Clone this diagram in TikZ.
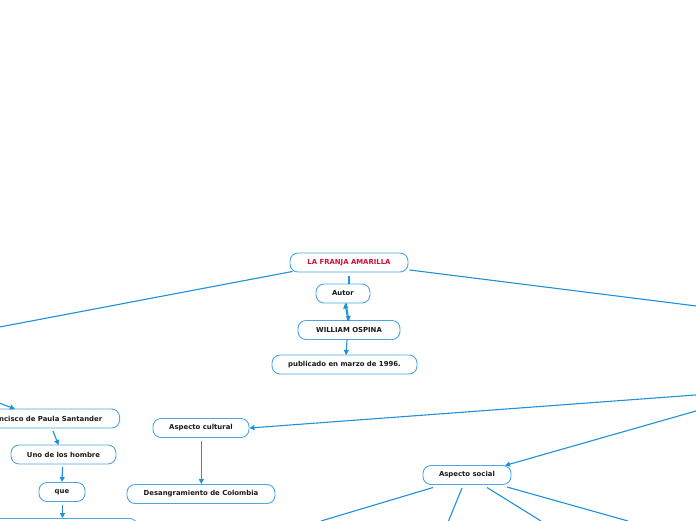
\documentclass[tikz,border=0pt]{standalone}
\usepackage{fontspec}
\setmainfont{DejaVu Sans}
\usetikzlibrary{arrows.meta}
\definecolor{lineblue}{HTML}{1E90DC}
\definecolor{boxblue}{HTML}{4AA6E6}
\definecolor{titlered}{HTML}{D0103A}
\definecolor{txt}{HTML}{1A1A1A}
\tikzset{
  topic/.style={draw=boxblue, line width=0.9pt, rounded corners=8pt, fill=white,
    minimum height=19pt, inner xsep=4pt, text=txt,
    font=\fontsize{6.9}{7.5}\selectfont\bfseries, anchor=center},
  conn/.style={draw=lineblue, line width=1.1pt},
  arr/.style={conn, -{Triangle[width=5pt,length=5pt]}}
}
\begin{document}
\begin{tikzpicture}[x=1pt,y=-1pt]
\useasboundingbox (0,0) rectangle (696,520);
% nodes
\node[topic, minimum width=118pt, text=titlered] (title) at (349,262.5) {LA FRANJA AMARILLA};
\node[topic, minimum width=54pt] (autor) at (343,293.5) {Autor};
\node[topic, minimum width=102pt] (william) at (349,330) {WILLIAM OSPINA};
\node[topic, minimum width=145pt] (pub) at (344.5,364.5) {publicado en marzo de 1996.};
\node[topic, minimum width=150pt, anchor=east] (santander) at (120,418.5) {Francisco de Paula Santander};
\node[topic, minimum width=105pt] (uno) at (63.5,454.5) {Uno de los hombre};
\node[topic, minimum width=46pt] (que) at (62,492) {que};
\node[topic, minimum width=180pt, anchor=north east] (bottom) at (138,518) {};
\node[topic, minimum width=96pt] (cultural) at (201,428) {Aspecto cultural};
\node[topic, minimum width=148pt] (desang) at (201,494) {Desangramiento de Colombia};
\node[topic, minimum width=88pt] (social) at (467,475) {Aspecto social};
% off-canvas ends
\coordinate (offL1) at (-2,327.3);
\coordinate (offR1) at (698,306.2);
\coordinate (offL2) at (-2,402.5);
\coordinate (offR2) at (698,394.8);
\coordinate (offR3) at (698,410.4);
\coordinate (offB1) at (321,521);
\coordinate (offB2) at (448.5,521);
\coordinate (offB3) at (541,521);
\coordinate (offB4) at (628,521);
% connectors
\draw[conn] (title.south west)++(3,-1) -- (offL1);
\draw[conn] (title.south east)++(1,-2.5) -- (offR1);
\draw[conn] (349,276) -- (autor.north -| 349,0);
\draw[arr] (346,303) -- (349,321);
\draw[arr] (348,321) -- (345,303.5);
\draw[arr] (347,340) -- (346,355);
\draw[arr] (offL2) -- (15,409);
\draw[arr] (53,431) -- (58.5,445);
\draw[arr] (62.5,467) -- (62,482);
\draw[arr] (62.5,505) -- (62.5,518);
\draw[arr] (offR2) -- (cultural.east);
\draw[arr] (offR3) -- (505,465.5);
\draw[arr] (201.3,441) -- (201.3,484);
\draw[conn] (433,487.5) -- (offB1);
\draw[conn] (462,488) -- (offB2);
\draw[conn] (487,487.5) -- (offB3);
\draw[conn] (507,487) -- (offB4);
\end{tikzpicture}
\end{document}
